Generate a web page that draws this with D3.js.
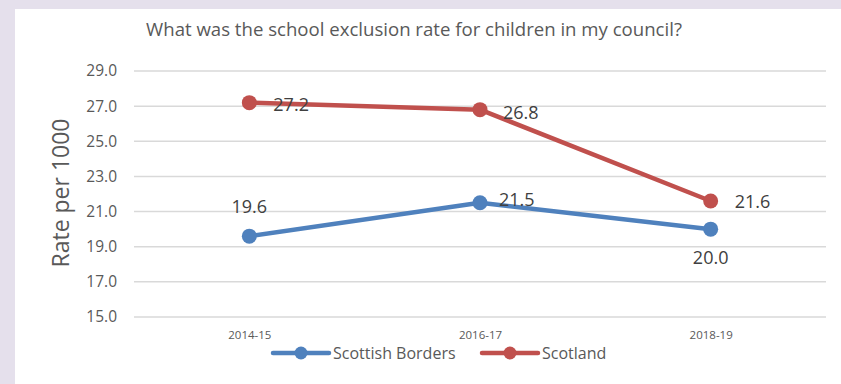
<!DOCTYPE html>
<html>
<head>
<meta charset="utf-8">
<script src="https://cdn.jsdelivr.net/npm/d3@7"></script>
<style>
body{margin:0;background:#e5e0ec;}
text{font-family:"Open Sans",sans-serif;}
</style>
</head>
<body>
<script>
var svg_width=841;
var svg_height=384;

var categories=["2014-15","2016-17","2018-19"];
var borders=[19.6,21.5,20.0];
var scotland=[27.2,26.8,21.6];
var y_ticks=[15,17,19,21,23,25,27,29];
var series_names=["Scottish Borders","Scotland"];
var colors=["#4f81bd","#c0504d"];

var svg=d3.select("body")
        .append("svg")
        .attr("width",svg_width)
        .attr("height",svg_height)
        .style("display","block");

svg.append("rect")
    .attr("x",15)
    .attr("y",9)
    .attr("width",svg_width-15)
    .attr("height",svg_height-9)
    .attr("fill","white");

var x=d3.scalePoint()
    .domain(categories)
    .range([134,826])
    .padding(0.5);

var y=d3.scaleLinear()
    .domain([15,29])
    .range([317,71]);

// gridlines
svg.append("g")
    .selectAll("line")
    .data(y_ticks)
    .enter()
    .append("line")
    .attr("x1",134)
    .attr("x2",826)
    .attr("y1",function (d) { return y(d); })
    .attr("y2",function (d) { return y(d); })
    .attr("stroke","#d9d9d9")
    .attr("stroke-width",1.5);

var yAxis=d3.axisLeft(y)
    .tickValues(y_ticks)
    .tickSize(0)
    .tickPadding(0)
    .tickFormat(d3.format(".1f"));

var gy=svg.append("g")
    .attr("transform","translate(117,0)")
    .call(yAxis);
gy.select(".domain").remove();
gy.selectAll("text")
    .style("font-family","'Open Sans', sans-serif")
    .style("font-size","15.5px")
    .attr("fill","#595959");

var xAxis=d3.axisBottom(x)
    .tickSize(0)
    .tickPadding(0);

var gx=svg.append("g")
    .attr("transform","translate(0,331)")
    .call(xAxis);
gx.select(".domain").remove();
gx.selectAll("text")
    .style("font-family","'Open Sans', sans-serif")
    .style("font-size","11.5px")
    .attr("fill","#595959");

// title
svg.append("text")
    .text("What was the school exclusion rate for children in my council?")
    .attr("x",414)
    .attr("y",36)
    .attr("text-anchor","middle")
    .attr("font-size","18.6px")
    .attr("fill","#595959");

svg.append("text")
    .text("Rate per 1000")
    .attr("transform","translate(69,193) rotate(-90)")
    .attr("text-anchor","middle")
    .attr("font-size","23px")
    .attr("fill","#595959");

var line=d3.line()
    .x(function (d,i) { return x(categories[i]); })
    .y(function (d) { return y(d); });

var all_series=[borders,scotland];

all_series.forEach(function (s,k) {
    svg.append("path")
        .datum(s)
        .attr("d",line)
        .attr("fill","none")
        .attr("stroke",colors[k])
        .attr("stroke-width",4.5)
        .attr("stroke-linejoin","round");
    svg.append("g")
        .selectAll("circle")
        .data(s)
        .enter()
        .append("circle")
        .attr("cx",function (d,i) { return x(categories[i]); })
        .attr("cy",function (d) { return y(d); })
        .attr("r",7.5)
        .attr("fill",colors[k]);
});

// data labels: dx, dy relative to point, anchor
var borders_pos=[[0,-23,"middle"],[19,3,"start"],[0,35,"middle"]];
var scotland_pos=[[24,8,"start"],[23,9,"start"],[24,7,"start"]];
var label_pos=[borders_pos,scotland_pos];

all_series.forEach(function (s,k) {
    svg.append("g")
        .selectAll("text")
        .data(s)
        .enter()
        .append("text")
        .text(function (d) { return d.toFixed(1); })
        .attr("x",function (d,i) { return x(categories[i])+label_pos[k][i][0]; })
        .attr("y",function (d,i) { return y(d)+label_pos[k][i][1]; })
        .attr("text-anchor",function (d,i) { return label_pos[k][i][2]; })
        .attr("font-size","18px")
        .attr("fill","#404040");
});

// legend
var legend_x=[273,482];
series_names.forEach(function (n,k) {
    var g=svg.append("g").attr("transform","translate("+legend_x[k]+",353)");
    g.append("line")
        .attr("x1",0).attr("x2",56)
        .attr("stroke",colors[k])
        .attr("stroke-width",4.5)
        .attr("stroke-linecap","round");
    g.append("circle")
        .attr("cx",28)
        .attr("r",6.5)
        .attr("fill",colors[k]);
    g.append("text")
        .text(n)
        .attr("x",60)
        .attr("y",6)
        .attr("font-size","16px")
        .attr("fill","#595959");
});
</script>
</body>
</html>
